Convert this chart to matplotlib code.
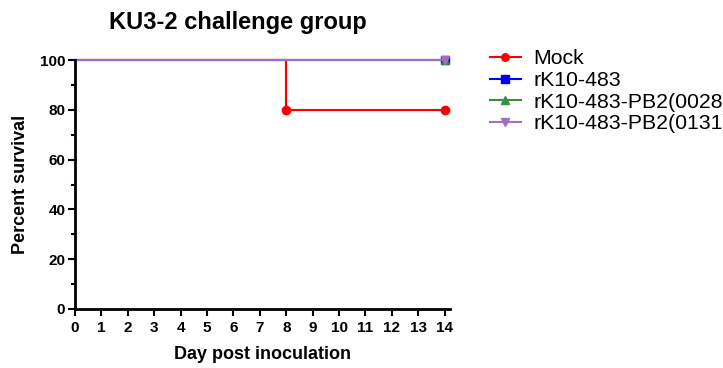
import matplotlib
matplotlib.use("Agg")
import matplotlib.pyplot as plt
from matplotlib.ticker import MultipleLocator

plt.rcParams['font.family'] = ['Liberation Sans', 'DejaVu Sans']

title = "KU3-2 challenge group"
xlabel = "Day post inoculation"
ylabel = "Percent survival"

mock_days = [0, 8, 14]
mock_surv = [100, 80, 80]
rk_days = [0, 14]
rk_surv = [100, 100]
pb0028_days = [0, 14]
pb0028_surv = [100, 100]
pb0131_days = [0, 14]
pb0131_surv = [100, 100]

labels = ["Mock", "rK10-483", "rK10-483-PB2(0028)", "rK10-483-PB2(0131)"]
colors = ["#FF0000", "#0000FF", "#3C8C3C", "#9E70BE"]
markers = ["o", "s", "^", "v"]

fig = plt.figure(figsize=(7.23, 3.68), dpi=100)
ax = fig.add_axes([75/723, 59/368, 375/723, 249/368])

series = [(mock_days, mock_surv), (rk_days, rk_surv),
          (pb0028_days, pb0028_surv), (pb0131_days, pb0131_surv)]
handles = []
for (d, s), lab, c, m in zip(series, labels, colors, markers):
    mk = list(range(1, len(d)))
    h, = ax.plot(d, s, drawstyle='steps-post', color=c, lw=1.5,
                 marker=m, markersize=6, markevery=mk, label=lab, clip_on=False)
    handles.append(h)

ax.set_xlim(0, 14.2)
ax.set_ylim(0, 100)
ax.xaxis.set_major_locator(MultipleLocator(1))
ax.yaxis.set_major_locator(MultipleLocator(20))
ax.yaxis.set_minor_locator(MultipleLocator(10))
for side in ['top', 'right']:
    ax.spines[side].set_visible(False)
for side in ['left', 'bottom']:
    ax.spines[side].set_linewidth(2)
ax.tick_params(axis='both', which='major', direction='out', length=5, width=1.5,
               labelsize=11, pad=2)
ax.tick_params(axis='x', which='major', pad=3.5)
ax.tick_params(axis='y', which='minor', direction='out', length=3, width=1.5)
for t in ax.get_xticklabels() + ax.get_yticklabels():
    t.set_fontweight('bold')

ax.set_xlabel(xlabel, fontsize=13, fontweight='bold', labelpad=8)
ax.set_ylabel(ylabel, fontsize=13, fontweight='bold', labelpad=8)
fig.text(238/723, 1 - 23/368, title, fontsize=17, fontweight='bold',
         ha='center', va='center')

fig.legend(handles=handles, labels=labels, loc='upper left',
           bbox_to_anchor=(481/723, 1 - 41/368), frameon=False,
           fontsize=15.3, handlelength=1.5, labelspacing=0.12, handletextpad=0.55,
           borderaxespad=0, markerscale=0.9)

fig.savefig("out.png", dpi=100)
